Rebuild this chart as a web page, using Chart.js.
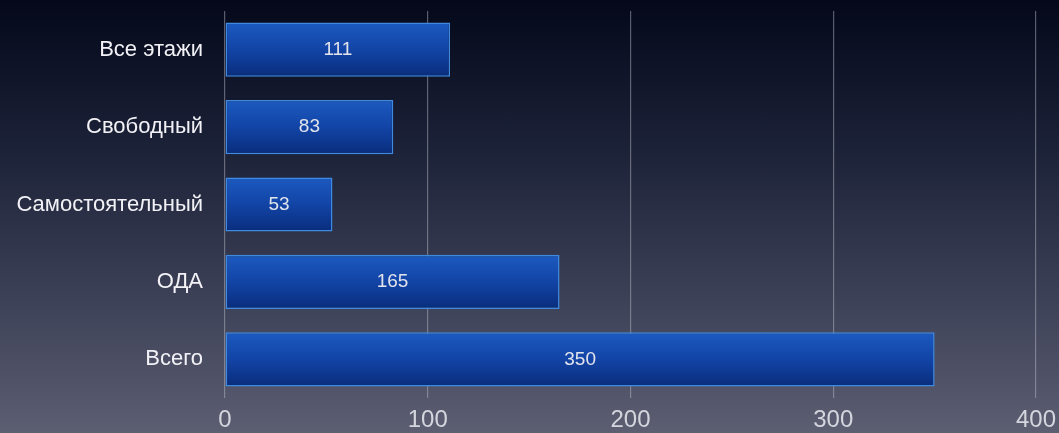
<!DOCTYPE html>
<html>
<head>
<meta charset="utf-8">
<script src="https://cdn.jsdelivr.net/npm/chart.js@4.4.1/dist/chart.umd.min.js"></script>
<style>
  html, body { margin: 0; padding: 0; }
  body {
    width: 1059px; height: 433px; overflow: hidden;
    background: linear-gradient(to bottom, #04081a 0%, #1c2238 35%, #3e4258 70%, #5c5e72 100%);
  }
  #wrap { position: relative; width: 1059px; height: 433px; }
</style>
</head>
<body>
<div id="wrap"><canvas id="c"></canvas></div>
<script>
// chart data
const categories = ['Все этажи', 'Свободный', 'Самостоятельный', 'ОДА', 'Всего'];
const values = [111, 83, 53, 165, 350];
const xTicks = [0, 100, 200, 300, 400];

const FONT = "'Helvetica Neue', 'Liberation Sans', Arial, sans-serif";
const BAR_HALF = 27;

function barFill(ctx) {
  const chart = ctx.chart;
  if (!chart.chartArea) return '#123f9c';
  const yc = chart.scales.y.getPixelForValue(ctx.dataIndex);
  const g = chart.ctx.createLinearGradient(0, yc - BAR_HALF, 0, yc + BAR_HALF);
  g.addColorStop(0, '#1c5ac0');
  g.addColorStop(0.5, '#1244a6');
  g.addColorStop(1, '#092d7c');
  return g;
}

// draws the value in the middle of each bar
const valueLabels = {
  id: 'valueLabels',
  afterDatasetsDraw(chart) {
    const c = chart.ctx;
    const meta = chart.getDatasetMeta(0);
    c.save();
    c.font = '19px ' + FONT;
    c.fillStyle = '#e2e4ec';
    c.textAlign = 'center';
    c.textBaseline = 'middle';
    meta.data.forEach((bar, i) => {
      c.fillText(String(values[i]), (bar.base + bar.x) / 2, bar.y);
    });
    c.restore();
  }
};

new Chart(document.getElementById('c'), {
  type: 'bar',
  data: {
    labels: categories,
    datasets: [{
      data: values,
      backgroundColor: barFill,
      borderColor: '#3f8ae0',
      borderWidth: 1.5,
      borderSkipped: false,
      barPercentage: 0.7,
      categoryPercentage: 1
    }]
  },
  options: {
    indexAxis: 'y',
    responsive: true,
    maintainAspectRatio: false,
    animation: false,
    layout: { padding: { top: 11, right: 23, left: 0, bottom: 0 } },
    plugins: { legend: { display: false }, tooltip: { enabled: false } },
    scales: {
      x: {
        min: 0, max: 400,
        afterBuildTicks: s => { s.ticks = xTicks.map(v => ({ value: v })); },
        afterFit: s => { s.height = 35; s.paddingLeft = 0; s.paddingRight = 0; },
        grid: { color: 'rgba(190,192,205,0.45)', lineWidth: 1.2, drawTicks: false },
        border: { display: false },
        ticks: { color: '#d4d6de', font: { family: FONT, size: 24 }, padding: 8, maxRotation: 0 }
      },
      y: {
        afterFit: s => { s.width = 225; s.paddingTop = 0; s.paddingBottom = 0; },
        grid: { display: false, drawTicks: false },
        border: { display: false },
        ticks: { color: '#f2f2f6', font: { family: FONT, size: 22 }, padding: 22 }
      }
    }
  },
  plugins: [valueLabels]
});
</script>
</body>
</html>
